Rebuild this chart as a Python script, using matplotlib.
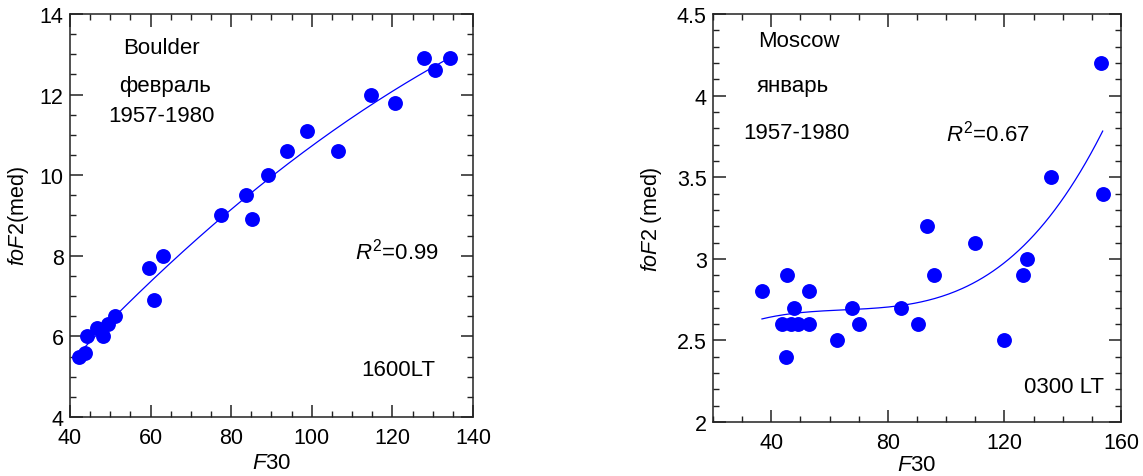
import matplotlib
matplotlib.use("Agg")
import matplotlib.pyplot as plt
import numpy as np
from matplotlib.ticker import MultipleLocator

plt.rcParams['font.family'] = ['Liberation Sans', 'DejaVu Sans']
plt.rcParams['mathtext.fontset'] = 'custom'
plt.rcParams['mathtext.rm'] = 'Liberation Sans'
plt.rcParams['mathtext.it'] = 'Liberation Sans:italic'

# Boulder, february, 1600 LT
boulder_f30 = [42.3, 43.7, 44.3, 46.6, 48.1, 49.5, 51.2, 59.7, 60.8, 63.1, 77.6,
               83.6, 85.2, 89.2, 93.9, 98.8, 106.4, 114.8, 120.7, 127.8, 130.7, 134.4]
boulder_fof2 = [5.5, 5.6, 6.0, 6.2, 6.0, 6.3, 6.5, 7.7, 6.9, 8.0, 9.0,
                9.5, 8.9, 10.0, 10.6, 11.1, 10.6, 12.0, 11.8, 12.9, 12.6, 12.9]

# Moscow, january, 0300 LT
moscow_f30 = [36.8, 43.8, 45.5, 45.1, 46.9, 47.7, 49.1, 52.9, 53.1, 62.5, 67.7, 70.1,
              84.6, 90.3, 93.4, 95.7, 109.9, 120.0, 126.5, 127.7, 136.0, 153.1, 153.7]
moscow_fof2 = [2.8, 2.6, 2.9, 2.4, 2.6, 2.7, 2.6, 2.8, 2.6, 2.5, 2.7, 2.6,
               2.7, 2.6, 3.2, 2.9, 3.1, 2.5, 2.9, 3.0, 3.5, 4.2, 3.4]

blue = '#0000ff'
fs = 15.5
ts = 16


# polynomial trend line through the scatter, over the data range
def trend(x, y, deg):
    p = np.polyfit(x, y, deg)
    xx = np.linspace(min(x), max(x), 200)
    return xx, np.polyval(p, xx)


def style(ax):
    for s in ax.spines.values():
        s.set_linewidth(1.1)
        s.set_color('#222222')
    ax.tick_params(which='both', direction='in', top=True, right=True,
                   labelsize=fs, colors='#222222', labelcolor='black')
    ax.tick_params(which='major', length=9, width=1.1)
    ax.tick_params(which='minor', length=4.5, width=1.0)
    ax.tick_params(axis='x', pad=7)
    ax.tick_params(axis='y', pad=4.5)


fig = plt.figure(figsize=(11.43, 4.77), dpi=100)
ax1 = fig.add_axes([0.0612, 0.1237, 0.3526, 0.845])
ax2 = fig.add_axes([0.6238, 0.1132, 0.357, 0.855])

# left panel
ax1.scatter(boulder_f30, boulder_fof2, s=115, color=blue, zorder=3, linewidths=0)
ax1.plot(*trend(boulder_f30, boulder_fof2, 2), color=blue, lw=0.9, zorder=2)
ax1.set_xlim(40, 140)
ax1.set_ylim(4, 14)
ax1.xaxis.set_major_locator(MultipleLocator(20))
ax1.xaxis.set_minor_locator(MultipleLocator(5))
ax1.yaxis.set_major_locator(MultipleLocator(2))
ax1.yaxis.set_minor_locator(MultipleLocator(0.5))
style(ax1)
ax1.set_xlabel(r'$\mathit{F}$30', fontsize=ts, labelpad=3)
ax1.set_ylabel(r'$\mathit{foF2}$(med)', fontsize=fs, labelpad=6)
ax1.text(62.8, 13.16, 'Boulder', fontsize=ts, ha='center', va='center')
ax1.text(63.6, 12.22, 'февраль', fontsize=ts, ha='center', va='center')
ax1.text(62.8, 11.47, '1957-1980', fontsize=ts, ha='center', va='center')
ax1.text(121.1, 8.12, r'$\mathit{R}^{2}$=0.99', fontsize=ts, ha='center', va='center')
ax1.text(121.4, 5.19, '1600LT', fontsize=ts, ha='center', va='center')

# right panel
ax2.scatter(moscow_f30, moscow_fof2, s=115, color=blue, zorder=3, linewidths=0)
ax2.plot(*trend(moscow_f30, moscow_fof2, 3), color=blue, lw=0.9, zorder=2)
ax2.set_xlim(20, 160)
ax2.set_ylim(2, 4.5)
ax2.xaxis.set_major_locator(MultipleLocator(40))
ax2.xaxis.set_minor_locator(MultipleLocator(10))
ax2.set_yticks([2, 2.5, 3, 3.5, 4, 4.5], ['2', '2.5', '3', '3.5', '4', '4.5'])
ax2.yaxis.set_minor_locator(MultipleLocator(0.1))
style(ax2)
ax2.set_xlabel(r'$\mathit{F}$30', fontsize=ts, labelpad=1)
ax2.set_ylabel(r'$\mathit{foF2}$ (med)', fontsize=fs, labelpad=9)
ax2.text(35.4, 4.34, 'Moscow', fontsize=ts, ha='left', va='center')
ax2.text(35.1, 4.065, 'январь', fontsize=ts, ha='left', va='center')
ax2.text(30.3, 3.777, '1957-1980', fontsize=ts, ha='left', va='center')
ax2.text(100.0, 3.777, r'$\mathit{R}^{2}$=0.67', fontsize=ts, ha='left', va='center')
ax2.text(154.2, 2.215, '0300 LT', fontsize=ts, ha='right', va='center')

fig.savefig('out.png', dpi=100)
